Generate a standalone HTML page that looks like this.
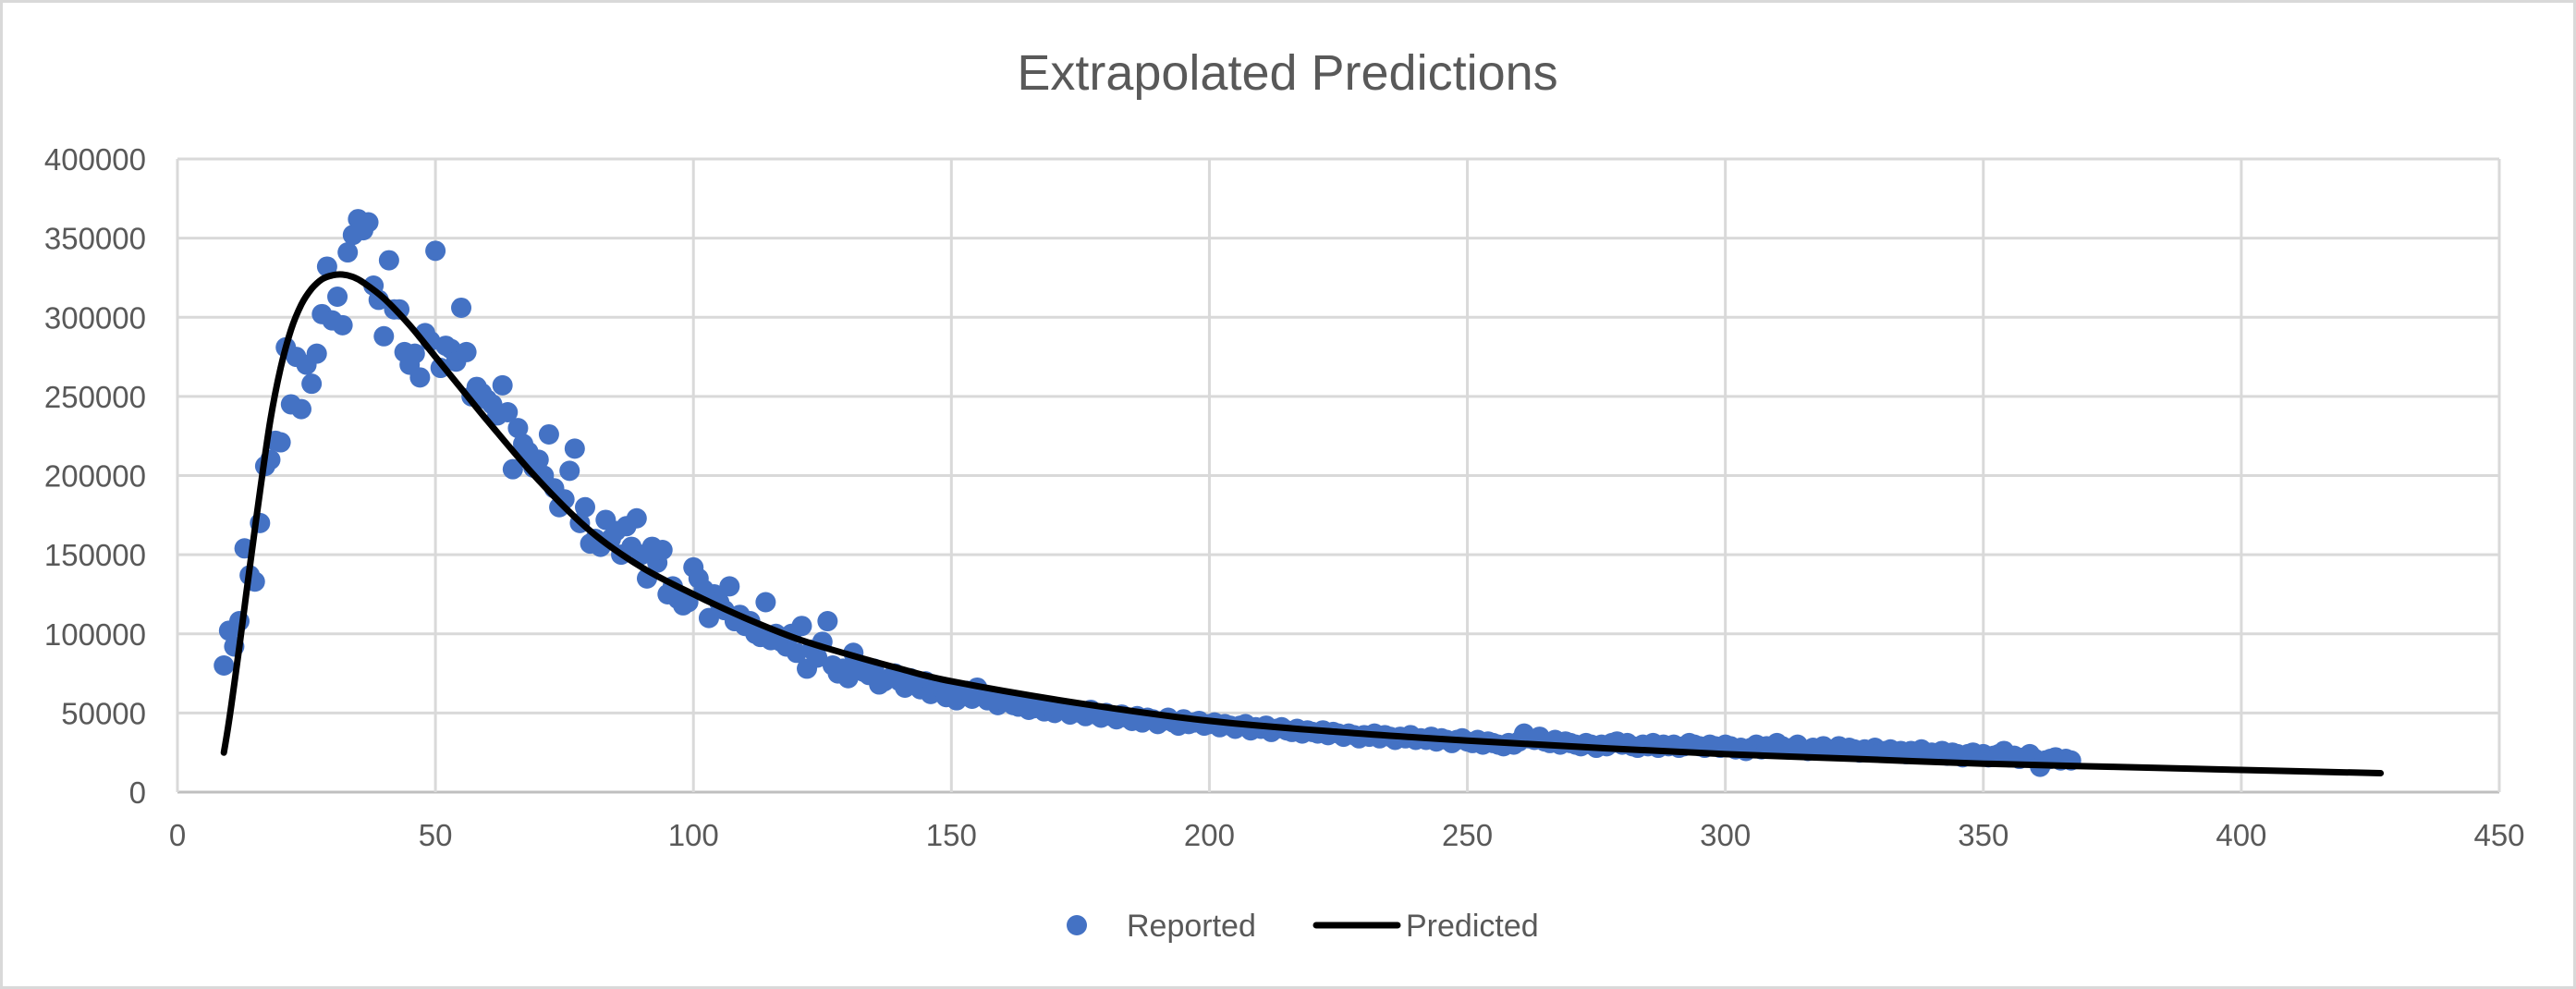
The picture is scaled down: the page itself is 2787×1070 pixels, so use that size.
<!DOCTYPE html>
<html><head><meta charset="utf-8"><style>
html,body{margin:0;padding:0;background:#fff}
svg{display:block;font-family:"Liberation Sans",sans-serif}
</style></head><body>
<svg id="chart" width="2787" height="1070" viewBox="0 0 2787 1070">
<rect x="1.5" y="1.5" width="2784" height="1067" fill="#fff" stroke="#d9d9d9" stroke-width="3"/>
<text x="1393" y="97" text-anchor="middle" font-size="54" fill="#595959">Extrapolated Predictions</text>
<g id="grid"></g><g id="axes"></g><g id="series"></g>
<g>
<circle cx="1165" cy="1001" r="11" fill="#4472c4"/>
<text x="1219" y="1013" font-size="34" fill="#595959">Reported</text>
<line x1="1424" y1="1001" x2="1512" y2="1001" stroke="#000" stroke-width="7" stroke-linecap="round"/>
<text x="1521" y="1013" font-size="34" fill="#595959">Predicted</text>
</g>
</svg>
<script>
const xTicks=[0,50,100,150,200,250,300,350,400,450];
const yTicks=[0,50000,100000,150000,200000,250000,300000,350000,400000];
const reportedStartDay=9;
const reportedK=[80,102,92,108,154,137,133,170,206,210,222,221,281,245,275,242,270,258,277,302,332,298,313,295,341,352,362,355,360,320,311,288,336,305,305,278,270,277,262,290,285,342,268,282,280,272,306,278,250,256,252,248,245,238,257,240,204,230,220,215,205,210,200,226,192,180,185,203,217,170,180,157,160,155,172,160,165,150,168,155,173,150,135,155,145,153,125,130,122,118,120,142,135,128,110,125,120,115,130,108,112,105,108,100,98,120,96,100,95,92,100,88,105,78,90,85,95,108,80,75,78,72,88,80,76,74,78,68,70,72,75,70,66,72,68,65,70,62,64,66,60,63,58,61,64,59,66,62,58,60,55,58,
57,55,54,56,52,53,55,51,54,50,52,53,49,51,50,48,52,49,47,50,
48,46,49,47,45,48,44,47,46,43,45,47,44,42,46,43,44,45,42,43,
44,41,43,42,40,42,43,39,41,40,42,38,40,41,39,38,40,37,39,38,
37,39,36,38,37,35,37,36,34,36,35,37,34,36,35,33,35,34,36,33,
34,33,35,32,34,33,31,33,34,32,31,33,30,32,31,30,29,31,30,32,
37,34,33,35,32,31,33,30,32,31,30,29,31,30,28,30,29,31,32,30,
31,29,28,30,29,31,28,30,29,30,28,29,31,30,29,28,30,29,28,30,
29,27,28,26,28,30,27,29,28,31,29,27,28,30,27,26,28,27,29,26,
27,29,26,28,27,25,27,26,28,25,26,27,25,26,24,26,25,27,24,25,
24,26,23,25,24,22,24,25,23,24,22,23,24,26,22,23,21,22,24,21,
16,20,21,22,20,21,20];
const predX=[9,10,11,12,13,14,16,18,20,22,24,26,28,30,32,34,36,40,45,50,55,60,70,80,90,100,110,120,130,140,150,175,200,225,250,275,300,325,350,375,400,427];
const predY=[25000,45000,68000,92000,117000,142000,190000,235000,268000,292000,308000,318000,324000,326500,327000,325500,322000,312000,295000,275000,255000,235000,197000,165000,142000,125000,110000,97000,87000,78000,70000,56000,45000,38000,32500,28000,24000,21000,18000,16000,14000,12000];
const L=192,R=2704,T=172,B=857,XMAX=450,YMAX=400000;
const sx=v=>L+(R-L)*v/XMAX, sy=v=>B-(B-T)*v/YMAX;
const NS="http://www.w3.org/2000/svg";
function mk(tag,attrs,parent){const e=document.createElementNS(NS,tag);for(const k in attrs)e.setAttribute(k,attrs[k]);parent.appendChild(e);return e;}
const grid=document.getElementById('grid'),axes=document.getElementById('axes'),ser=document.getElementById('series');
yTicks.forEach(v=>{
 const l=mk('line',{x1:L,x2:R,y1:sy(v),y2:sy(v),stroke:v===0?'#bfbfbf':'#d9d9d9','stroke-width':3},grid);
 
 
 const t=mk('text',{x:158,y:sy(v)+12,'text-anchor':'end','font-size':33,fill:'#595959'},axes);
 t.textContent=v;
 
 
});
xTicks.forEach(v=>{
 const l=mk('line',{x1:sx(v),x2:sx(v),y1:T,y2:B,stroke:'#d9d9d9','stroke-width':3},grid);
 
 
 const t=mk('text',{x:sx(v),y:915,'text-anchor':'middle','font-size':33,fill:'#595959'},axes);
 t.textContent=v;
 
 
});
reportedK.forEach((v,i)=>{
 const c=mk('circle',{cx:sx(reportedStartDay+i),cy:sy(v*1000),r:11,fill:'#4472c4'},ser);
 
 
});
// smooth path (Catmull-Rom -> Bezier)
const pts=predX.map((x,i)=>[sx(x),sy(predY[i])]);
let d='M'+pts[0][0].toFixed(1)+','+pts[0][1].toFixed(1);
for(let i=0;i<pts.length-1;i++){
 const p0=pts[Math.max(0,i-1)],p1=pts[i],p2=pts[i+1],p3=pts[Math.min(pts.length-1,i+2)];
 const c1=[p1[0]+(p2[0]-p0[0])/6,p1[1]+(p2[1]-p0[1])/6];
 const c2=[p2[0]-(p3[0]-p1[0])/6,p2[1]-(p3[1]-p1[1])/6];
 d+='C'+c1[0].toFixed(1)+','+c1[1].toFixed(1)+' '+c2[0].toFixed(1)+','+c2[1].toFixed(1)+' '+p2[0].toFixed(1)+','+p2[1].toFixed(1);
}
const p=mk('path',{d:d,fill:'none',stroke:'#000','stroke-width':7,'stroke-linejoin':'round','stroke-linecap':'round'},ser);


</script>
</body></html>
